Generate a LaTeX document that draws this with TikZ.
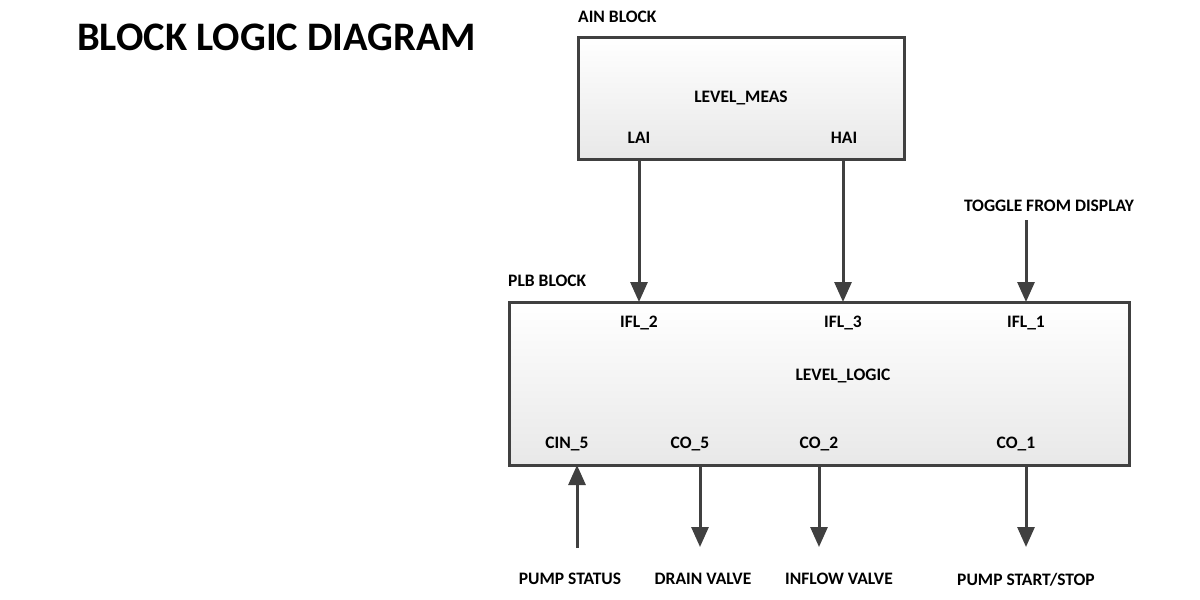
\documentclass[tikz,border=0pt]{standalone}
\usepackage{fontspec}
\setmainfont{Carlito}
\usetikzlibrary{arrows.meta}
\definecolor{edge}{HTML}{404040}
\definecolor{fillbot}{HTML}{E8E8E8}
\begin{document}
\begin{tikzpicture}[x=1pt,y=-1pt,
  blockbox/.style={draw=edge,line width=3pt,top color=white,bottom color=fillbot,inner sep=0pt},
  lbl/.style={font=\bfseries\fontsize{17.5}{20}\selectfont,text=black,inner sep=0pt},
  conn/.style={draw=edge,line width=3pt,-{Triangle[width=17pt,length=20pt]}}]
\useasboundingbox (0,0) rectangle (1200,600);
\node[anchor=west,font=\bfseries\fontsize{40.5}{44}\selectfont,inner sep=0pt] (title) at (77,37) {BLOCK LOGIC DIAGRAM};
% AIN block
\node[blockbox,minimum width=326pt,minimum height=122pt] (ain) at (741,98) {};
\node[lbl,anchor=west] (ainlbl) at (578,17) {AIN BLOCK};
\node[lbl] (meas) at (741,98) {LEVEL\_MEAS};
\node[lbl] (lai) at (639,138) {LAI};
\node[lbl] (hai) at (844,138) {HAI};
% PLB block
\node[blockbox,minimum width=620pt,minimum height=163pt] (plb) at (819,383.5) {};
\node[lbl,anchor=west] (plblbl) at (508,281) {PLB BLOCK};
\node[lbl] (ifl2) at (639,323) {IFL\_2};
\node[lbl] (ifl3) at (843,323) {IFL\_3};
\node[lbl] (ifl1) at (1026,323) {IFL\_1};
\node[lbl] (logic) at (843,376) {LEVEL\_LOGIC};
\node[lbl] (cin5) at (567,444) {CIN\_5};
\node[lbl] (co5) at (690,444) {CO\_5};
\node[lbl] (co2) at (819,444) {CO\_2};
\node[lbl] (co1) at (1016,444) {CO\_1};
% external labels
\node[lbl] (toggle) at (1049,206) {TOGGLE FROM DISPLAY};
\node[lbl] (pstat) at (570,579) {PUMP STATUS};
\node[lbl] (drain) at (703,579) {DRAIN VALVE};
\node[lbl] (inflow) at (839,579) {INFLOW VALVE};
\node[lbl] (pss) at (1026,580) {PUMP START/STOP};
% coordinates
\coordinate (laiB) at (639,159);
\coordinate (haiB) at (843,159);
\coordinate (ifl2T) at (639,302);
\coordinate (ifl3T) at (843,302);
\coordinate (ifl1T) at (1026,302);
\coordinate (togB) at (1026,220);
\coordinate (psB) at (577,548);
\coordinate (cin5B) at (577,465);
\coordinate (co5B) at (700,465);
\coordinate (co2B) at (819,465);
\coordinate (co1B) at (1026,465);
\coordinate (drT) at (700,547);
\coordinate (inT) at (819,547);
\coordinate (pssT) at (1026,547);
\draw[conn] (laiB) -- (ifl2T);
\draw[conn] (haiB) -- (ifl3T);
\draw[conn] (togB) -- (ifl1T);
\draw[conn] (psB) -- (cin5B);
\draw[conn] (co5B) -- (drT);
\draw[conn] (co2B) -- (inT);
\draw[conn] (co1B) -- (pssT);
\end{tikzpicture}
\end{document}
